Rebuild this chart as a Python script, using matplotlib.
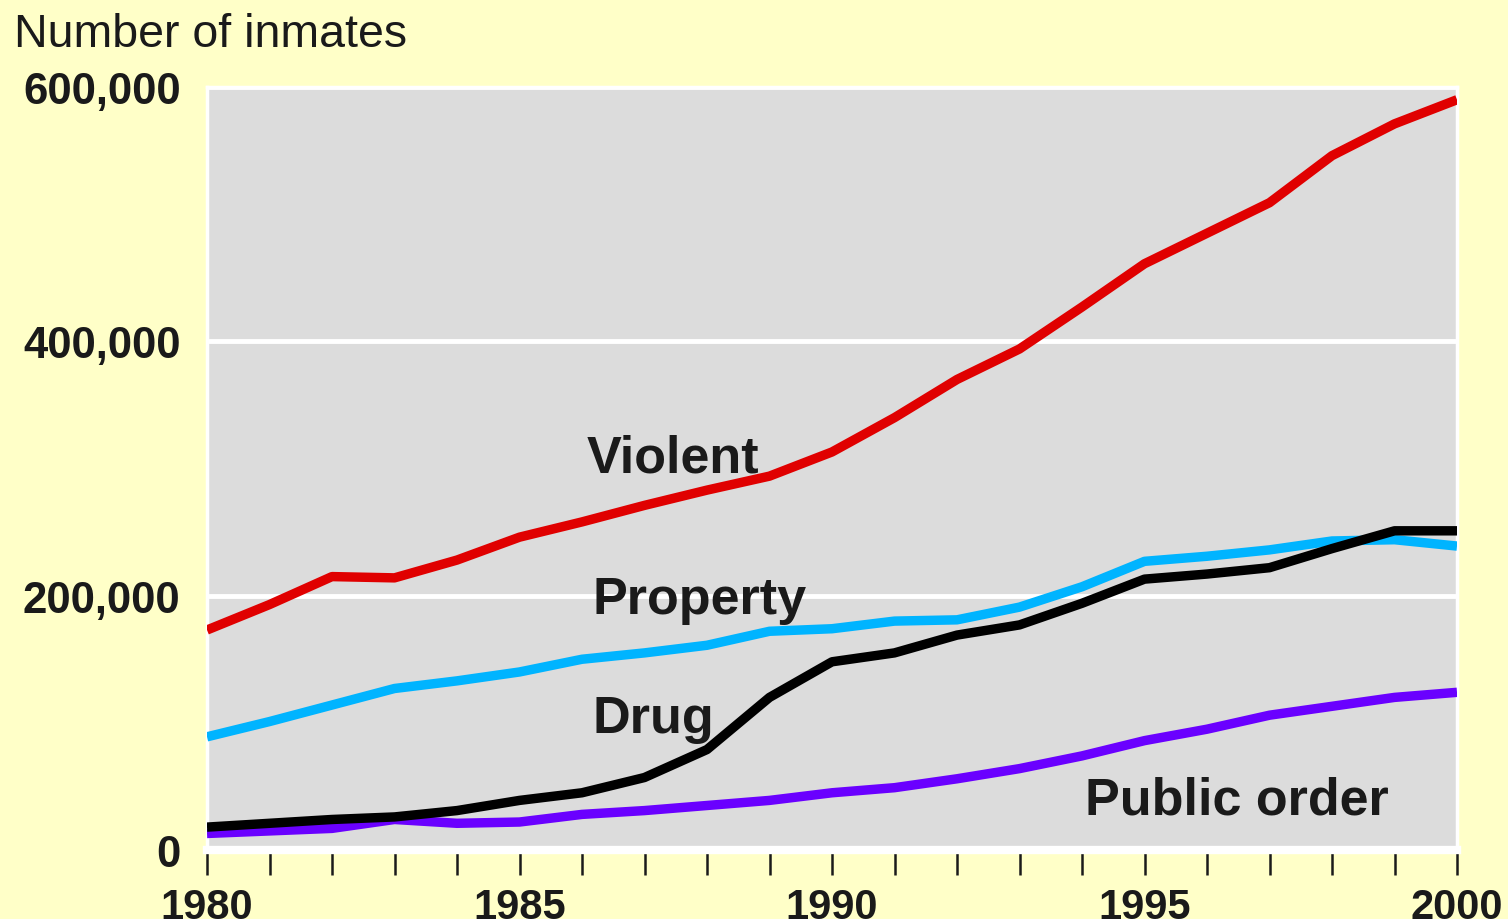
import matplotlib.pyplot as plt
from matplotlib.ticker import FuncFormatter

# Data (state prison inmates by offense type)
years = list(range(1980, 2001))
violent = [173000, 193000, 215000, 214000, 228000, 246000, 258000, 271000, 283000, 294000,
           313000, 340000, 370000, 394000, 427000, 461000, 485000, 509000, 546000, 571000, 590000]
property_ = [89000, 101000, 114000, 127000, 133000, 140000, 150000, 155000, 161000, 172000,
             174000, 180000, 181000, 191000, 207000, 227000, 231000, 236000, 243000, 244000, 239000]
drug = [18000, 21000, 24000, 26000, 31000, 39000, 45000, 57000, 79000, 120000,
        148000, 155000, 169000, 177000, 194000, 213000, 217000, 222000, 237000, 251000, 251000]
public_order = [13000, 15000, 17000, 24000, 21000, 22000, 28000, 31000, 35000, 39000,
                45000, 49000, 56000, 64000, 74000, 86000, 95000, 106000, 113000, 120000, 124000]

plt.rcParams['font.family'] = ['Liberation Sans', 'DejaVu Sans']

fig = plt.figure(figsize=(15.08, 9.2), dpi=100, facecolor='#FFFFC8')
ax = fig.add_axes([207 / 1508, 69 / 920, 1250 / 1508, 763 / 920])
ax.set_facecolor('#DCDCDC')

lw = 6.8
ax.plot(years, violent, color='#E00000', lw=lw, solid_capstyle='butt', zorder=3)
ax.plot(years, property_, color='#00B4FF', lw=lw, solid_capstyle='butt', zorder=3)
ax.plot(years, public_order, color='#6A00FF', lw=lw, solid_capstyle='butt', zorder=3)
ax.plot(years, drug, color='black', lw=lw, solid_capstyle='butt', zorder=4)

ax.set_xlim(1980, 2000)
ax.set_ylim(0, 600000)

ax.set_yticks([0, 200000, 400000, 600000])
ax.yaxis.set_major_formatter(FuncFormatter(lambda v, p: '{:,.0f}'.format(v)))
ax.grid(axis='y', color='white', lw=3.5, zorder=1)
ax.set_axisbelow(True)
ax.tick_params(axis='y', length=0, pad=19, labelsize=31.5)
for lab in ax.get_yticklabels():
    lab.set_fontweight('bold')
    lab.set_color('#1a1a1a')

ax.set_xticks(years)
ax.set_xticklabels([str(y) if y % 5 == 0 else '' for y in years])
ax.tick_params(axis='x', direction='out', length=18, width=1.8, color='#1a1a1a',
               pad=9, labelsize=30)
for lab in ax.get_xticklabels():
    lab.set_fontweight('bold')
    lab.set_color('#1a1a1a')

for side in ['top', 'left', 'right']:
    ax.spines[side].set_color('white')
    ax.spines[side].set_linewidth(2.5)
ax.spines['bottom'].set_color('white')
ax.spines['bottom'].set_linewidth(6)

fig.text(14 / 1508, 1 - 47 / 920, 'Number of inmates', fontsize=33.5, color='#1a1a1a',
         ha='left', va='baseline')

label_kw = dict(fontsize=37.5, fontweight='bold', color='#1a1a1a', ha='left', va='baseline', zorder=5)
ax.text(1986.08, 298000, 'Violent', **label_kw)
ax.text(1986.16, 186000, 'Property', **label_kw)
ax.text(1986.16, 93000, 'Drug', **label_kw)
ax.text(1994.05, 29000, 'Public order', **label_kw)

fig.savefig('out.png', dpi=100, facecolor=fig.get_facecolor())
